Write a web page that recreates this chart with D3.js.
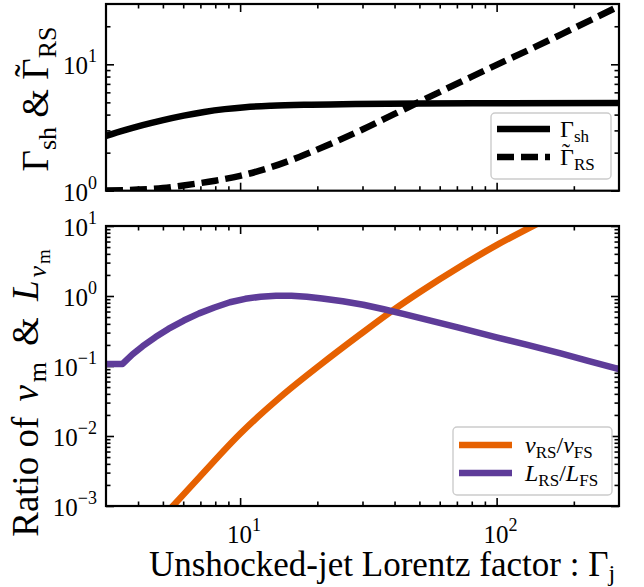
<!DOCTYPE html>
<html>
<head>
<meta charset="utf-8">
<script src="https://cdn.jsdelivr.net/npm/d3@7"></script>
<style>
html,body{margin:0;padding:0;background:#fff;}
svg{display:block;}
text{font-family:"Liberation Serif","DejaVu Serif",serif;fill:#000;}
</style>
</head>
<body>
<svg id="chart" width="644" height="587"></svg>
<script>
// ---- data ----
const gammaJ_sh   = [3, 3.55, 4.17, 5.01, 6.03, 7.24, 8.71, 10.47, 13.18, 17.78, 28.18, 50.12, 100, 300];
const gammaSh     = [2.71, 3.01, 3.30, 3.62, 3.93, 4.20, 4.42, 4.58, 4.70, 4.79, 4.85, 4.90, 4.92, 4.94];

const gammaJ_rs   = [3, 4, 5, 6, 8, 10, 13, 17, 22, 30, 40, 55, 75, 100, 140, 200, 300];
const gammaRS     = [1.005, 1.02, 1.05, 1.1, 1.2, 1.31, 1.52, 1.85, 2.3, 3.05, 4.05, 5.55, 7.5, 9.9, 13.6, 19.3, 28.8];

const gammaJ_nu   = [5.01, 5.47, 6.97, 10, 14.3, 20.5, 29.3, 39.5, 50.4, 71.9, 100, 138.4, 199.5, 300];
const nuRatio     = [0.000705, 0.001, 0.00263, 0.01076, 0.0356, 0.1033, 0.2805, 0.6295, 1.153, 2.624, 5.32, 10.0, 19.7, 40.3];

const gammaJ_L    = [3.0, 3.48, 3.80, 4.17, 4.68, 5.25, 6.03, 6.92, 7.94, 9.12, 10.47, 12.02, 13.80, 15.85, 18.20, 20.89, 25.12, 30.20, 36.31, 43.65, 56.23, 72.44, 100, 131.8, 177.8, 229.1, 300];
const lumRatio    = [0.107, 0.107, 0.146, 0.192, 0.259, 0.338, 0.446, 0.564, 0.684, 0.813, 0.912, 0.977, 1.012, 1.012, 0.977, 0.923, 0.841, 0.750, 0.646, 0.550, 0.437, 0.347, 0.257, 0.200, 0.151, 0.117, 0.090];

const xTicks      = [10, 100];
const xTickExp    = ["1", "2"];
const yTopTicks   = [1, 10];
const yTopExp     = ["0", "1"];
const yBotTicks   = [0.001, 0.01, 0.1, 1, 10];
const yBotExp     = ["\u22123", "\u22122", "\u22121", "0", "1"];

const colOrange = "#e66101";
const colPurple = "#5e3c99";

// ---- layout ----
const svg = d3.select("#chart");
const L = 106, R = 619;
const top1 = 4, bot1 = 190.7;
const top2 = 226, bot2 = 506;

const x  = d3.scaleLog().domain([3, 300]).range([L, R]);
const yT = d3.scaleLog().domain([1, 30]).range([bot1, top1]);
const yB = d3.scaleLog().domain([0.001, 10]).range([bot2, top2]);

function minors(lo, hi) {
  const out = [];
  for (let e = Math.floor(Math.log10(lo)); e <= Math.ceil(Math.log10(hi)); e++) {
    for (let m = 2; m <= 9; m++) {
      const v = m * Math.pow(10, e);
      if (v > lo * 1.0001 && v < hi * 0.9999) out.push(v);
    }
  }
  return out;
}

function frame(yScale, yTop, yBot, yMaj) {
  const g = svg.append("g");
  const xMin = minors(3, 300);
  const yMin = minors(yScale.domain()[0], yScale.domain()[1]);
  const majLen = 8, minLen = 4.5;
  g.append("g").attr("transform", `translate(0,${yBot})`)
    .call(d3.axisBottom(x).tickValues(xTicks).tickSize(-majLen).tickFormat(""));
  g.append("g").attr("transform", `translate(0,${yBot})`)
    .call(d3.axisBottom(x).tickValues(xMin).tickSize(-minLen).tickFormat(""));
  g.append("g").attr("transform", `translate(0,${yTop})`)
    .call(d3.axisTop(x).tickValues(xTicks).tickSize(-majLen).tickFormat(""));
  g.append("g").attr("transform", `translate(0,${yTop})`)
    .call(d3.axisTop(x).tickValues(xMin).tickSize(-minLen).tickFormat(""));
  g.append("g").attr("transform", `translate(${L},0)`)
    .call(d3.axisLeft(yScale).tickValues(yMaj).tickSize(-majLen).tickFormat(""));
  g.append("g").attr("transform", `translate(${L},0)`)
    .call(d3.axisLeft(yScale).tickValues(yMin).tickSize(-minLen).tickFormat(""));
  g.append("g").attr("transform", `translate(${R},0)`)
    .call(d3.axisRight(yScale).tickValues(yMaj).tickSize(-majLen).tickFormat(""));
  g.append("g").attr("transform", `translate(${R},0)`)
    .call(d3.axisRight(yScale).tickValues(yMin).tickSize(-minLen).tickFormat(""));
  g.selectAll(".domain").remove();
  g.selectAll(".tick line").attr("stroke", "#000").attr("stroke-width", 1.6);
  return g;
}

function border(yTop, yBot) {
  svg.append("rect").attr("x", L).attr("y", yTop).attr("width", R - L).attr("height", yBot - yTop)
    .attr("fill", "none").attr("stroke", "#000").attr("stroke-width", 2.2);
}

function powLabel(g, px, py, exp, anchor) {
  const t = g.append("text").attr("x", px).attr("y", py).attr("text-anchor", anchor)
    .attr("font-size", 25);
  t.append("tspan").text("10");
  t.append("tspan").attr("font-size", 18).attr("dy", -12).text(exp);
}

// Gamma with a tilde drawn above it (font-size fs)
function gammaTilde(t, fs) {
  t.append("tspan").text("\u0393");
  t.append("tspan").attr("dx", -0.5 * fs).attr("dy", -0.2 * fs).text("\u02dc");
  return 0.167 * fs;
}

const defs = svg.append("defs");
defs.append("clipPath").attr("id", "clipT").append("rect")
  .attr("x", L).attr("y", top1).attr("width", R - L).attr("height", bot1 - top1);
defs.append("clipPath").attr("id", "clipB").append("rect")
  .attr("x", L).attr("y", top2).attr("width", R - L).attr("height", bot2 - top2);

// ---- top panel ----
frame(yT, top1, bot1, yTopTicks);
const gT = svg.append("g").attr("clip-path", "url(#clipT)");
gT.append("path")
  .attr("d", d3.line().x((d, i) => x(gammaJ_sh[i])).y(d => yT(d)).curve(d3.curveMonotoneX)(gammaSh))
  .attr("fill", "none").attr("stroke", "#000").attr("stroke-width", 6.5);
gT.append("path")
  .attr("d", d3.line().x((d, i) => x(gammaJ_rs[i])).y(d => yT(d)).curve(d3.curveMonotoneX)(gammaRS))
  .attr("fill", "none").attr("stroke", "#000").attr("stroke-width", 6.5)
  .attr("stroke-dasharray", "17,7");
border(top1, bot1);
const lblT = svg.append("g");
yTopTicks.forEach((v, i) => powLabel(lblT, L - 9, yT(v) + 10, yTopExp[i], "end"));

// ---- bottom panel ----
frame(yB, top2, bot2, yBotTicks);
const gB = svg.append("g").attr("clip-path", "url(#clipB)");
gB.append("path")
  .attr("d", d3.line().x((d, i) => x(gammaJ_nu[i])).y(d => yB(d)).curve(d3.curveMonotoneX)(nuRatio))
  .attr("fill", "none").attr("stroke", colOrange).attr("stroke-width", 6.5);
gB.append("path")
  .attr("d", d3.line().x((d, i) => x(gammaJ_L[i])).y(d => yB(d)).curve(d3.curveLinear)(lumRatio))
  .attr("fill", "none").attr("stroke", colPurple).attr("stroke-width", 6.5)
  .attr("stroke-linejoin", "round");
border(top2, bot2);
const lblB = svg.append("g");
yBotTicks.forEach((v, i) => powLabel(lblB, L - 9, yB(v) + 10, yBotExp[i], "end"));
xTicks.forEach((v, i) => powLabel(lblB, x(v) + 4, 543, xTickExp[i], "middle"));

// ---- axis titles ----
svg.append("text").attr("x", 382).attr("y", 576).attr("text-anchor", "middle").attr("font-size", 35)
  .call(t => {
    t.append("tspan").text("Unshocked-jet Lorentz factor : \u0393");
    t.append("tspan").attr("font-size", 24).attr("dy", 5).text("j");
  });

svg.append("text").attr("transform", `translate(48,99) rotate(-90)`)
  .attr("text-anchor", "middle").attr("font-size", 37)
  .call(t => {
    t.append("tspan").text("\u0393");
    t.append("tspan").attr("font-size", 26).attr("dy", 8).text("sh");
    t.append("tspan").attr("dy", -8).text(" & ");
    const back = gammaTilde(t, 37);
    t.append("tspan").attr("font-size", 26).attr("dx", back).attr("dy", 0.2 * 37 + 8).text("RS");
  });

svg.append("text").attr("transform", `translate(38,393) rotate(-90)`)
  .attr("text-anchor", "middle").attr("font-size", 37)
  .call(t => {
    t.append("tspan").text("Ratio of");
    t.append("tspan").attr("dx", 15).attr("font-style", "italic").text("\u03bd");
    t.append("tspan").attr("dx", 3).attr("font-size", 26).attr("dy", 8).text("m");
    t.append("tspan").attr("dx", 16).attr("dy", -8).text("&");
    t.append("tspan").attr("dx", 16).attr("font-style", "italic").text("L");
    t.append("tspan").attr("dx", 3).attr("font-size", 26).attr("font-style", "italic").attr("dy", 8).text("\u03bd");
    t.append("tspan").attr("dx", 2).attr("font-size", 19).attr("dy", 4).text("m");
  });

// ---- legends ----
function legend(bx, by, bw, bh, items) {
  const g = svg.append("g");
  g.append("rect").attr("x", bx).attr("y", by).attr("width", bw).attr("height", bh).attr("rx", 4)
    .attr("fill", "#fff").attr("fill-opacity", 0.8).attr("stroke", "#cccccc").attr("stroke-width", 1.4);
  items.forEach(it => {
    g.append("line").attr("x1", bx + 6).attr("x2", bx + 59).attr("y1", it.y).attr("y2", it.y)
      .attr("stroke", it.color).attr("stroke-width", 6.5).attr("stroke-dasharray", it.dash || null);
    const t = g.append("text").attr("x", bx + it.tx).attr("y", it.y + 8).attr("font-size", 24);
    it.build(t);
  });
}

legend(491, 113, 120, 66, [
  { y: 129, color: "#000", tx: 69, build: t => {
      t.append("tspan").text("\u0393");
      t.append("tspan").attr("font-size", 17).attr("dy", 5).text("sh");
  }},
  { y: 157, color: "#000", dash: "17,7", tx: 69, build: t => {
      const back = gammaTilde(t, 24);
      t.append("tspan").attr("font-size", 17).attr("dx", back).attr("dy", 0.2 * 24 + 5).text("RS");
  }}
]);

legend(453, 427, 159, 68, [
  { y: 445, color: colOrange, tx: 72, build: t => {
      t.append("tspan").attr("font-style", "italic").text("\u03bd");
      t.append("tspan").attr("font-size", 17).attr("dy", 5).text("RS");
      t.append("tspan").attr("dy", -5).text("/");
      t.append("tspan").attr("font-style", "italic").text("\u03bd");
      t.append("tspan").attr("font-size", 17).attr("dy", 5).text("FS");
  }},
  { y: 473, color: colPurple, tx: 72, build: t => {
      t.append("tspan").attr("font-style", "italic").text("L");
      t.append("tspan").attr("font-size", 17).attr("dy", 5).text("RS");
      t.append("tspan").attr("dy", -5).text("/");
      t.append("tspan").attr("font-style", "italic").text("L");
      t.append("tspan").attr("font-size", 17).attr("dy", 5).text("FS");
  }}
]);
</script>
</body>
</html>
